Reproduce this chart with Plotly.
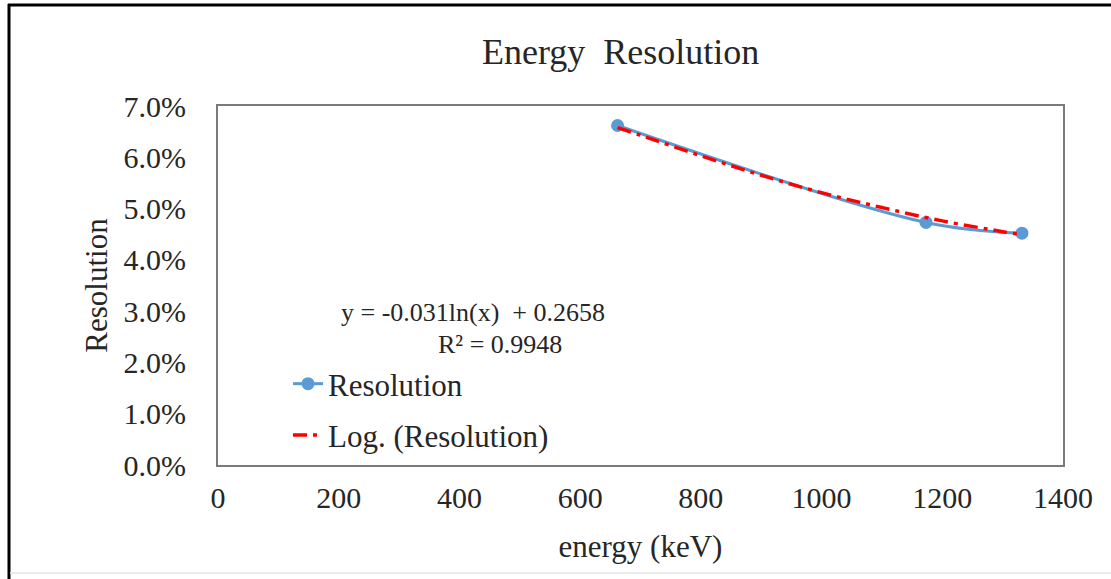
import plotly.graph_objects as go

# ---- data ----
energy_kev = [662, 1173, 1332]
resolution = [0.0662, 0.0473, 0.0452]

trend_energy = [662, 700, 800, 900, 1000, 1100, 1200, 1300, 1332]
trend_resolution = [0.0658, 0.0643, 0.0603, 0.0565, 0.0531, 0.0502, 0.0476, 0.0455, 0.0449]

x_ticks = [0, 200, 400, 600, 800, 1000, 1200, 1400]
y_ticks = [0.00, 0.01, 0.02, 0.03, 0.04, 0.05, 0.06, 0.07]

title_text = "Energy  Resolution"
x_title = "energy (keV)"
y_title = "Resolution"
equation_lines = ["y = -0.031ln(x)  + 0.2658", "R² = 0.9948"]

FONT = "Liberation Serif, Times New Roman, serif"
BLUE = "#5B9BD5"
RED = "#FF0000"

# plot area in pixels
W, H = 1111, 579
L, R, T, B = 218, 1063, 106, 465
pw, ph = R - L, B - T


def px(x):
    return (x - L) / pw


def py(y):
    return (B - y) / ph


fig = go.Figure()

fig.add_trace(go.Scatter(
    x=energy_kev, y=resolution, name="Resolution",
    mode="lines+markers", line=dict(color=BLUE, width=3, shape="spline"),
    marker=dict(color=BLUE, size=13), legendgroup="a",
))
fig.add_trace(go.Scatter(
    x=trend_energy, y=trend_resolution, name="Log. (Resolution)",
    mode="lines", line=dict(color=RED, width=3.5, shape="spline",
                            dash="14px,6px,4px,6px"),
    legendgroup="b",
))

fig.update_layout(
    width=W, height=H,
    margin=dict(l=L, r=W - R, t=T, b=H - B, autoexpand=False),
    paper_bgcolor="white", plot_bgcolor="white",
    font=dict(family=FONT, color="#262626", size=30),
    showlegend=True,
    legend=dict(
        x=px(288), y=py(357), xanchor="left", yanchor="top",
        bgcolor="rgba(0,0,0,0)", font=dict(family=FONT, size=31, color="#262626"),
        tracegroupgap=8, itemwidth=30,
    ),
    xaxis=dict(
        range=[0, 1400], tickvals=x_ticks, ticktext=[str(v) for v in x_ticks],
        showgrid=False, zeroline=False, showline=True, mirror=True,
        linecolor="#7a7a7a", linewidth=2, ticks="", ticklabelstandoff=5,
        tickfont=dict(family=FONT, size=30, color="#262626"),
        title=dict(text=x_title, font=dict(family=FONT, size=31, color="#262626"), standoff=22),
    ),
    yaxis=dict(
        range=[0, 0.07], tickvals=y_ticks, tickformat=".1%",
        showgrid=False, zeroline=False, showline=True, mirror=True,
        linecolor="#7a7a7a", linewidth=2, ticks="", ticklabelstandoff=24,
        tickfont=dict(family=FONT, size=30, color="#262626"),
        title=dict(text=y_title, font=dict(family=FONT, size=31, color="#262626"), standoff=7),
    ),
)

annotations = [
    dict(text=title_text, x=px(620), y=py(52), xref="paper", yref="paper",
         showarrow=False, font=dict(family=FONT, size=36, color="#262626"),
         xanchor="center", yanchor="middle"),
    dict(text=equation_lines[0], x=px(473), y=py(312), xref="paper", yref="paper",
         showarrow=False, font=dict(family=FONT, size=26, color="#262626"),
         xanchor="center", yanchor="middle"),
    dict(text=equation_lines[1], x=px(500), y=py(344), xref="paper", yref="paper",
         showarrow=False, font=dict(family=FONT, size=26, color="#262626"),
         xanchor="center", yanchor="middle"),
]
fig.update_layout(annotations=annotations)

# outer chart border
shapes = [
    dict(type="line", xref="paper", yref="paper", x0=px(9), x1=px(9), y0=py(4), y1=py(579),
         line=dict(color="black", width=3)),
    dict(type="line", xref="paper", yref="paper", x0=px(8), x1=px(1111), y0=py(5), y1=py(5),
         line=dict(color="black", width=3)),
    dict(type="line", xref="paper", yref="paper", x0=px(10), x1=px(1111), y0=py(573), y1=py(573),
         line=dict(color="#e4e4e4", width=1.5)),
]
fig.update_layout(shapes=shapes)

fig.write_html("out.html")
